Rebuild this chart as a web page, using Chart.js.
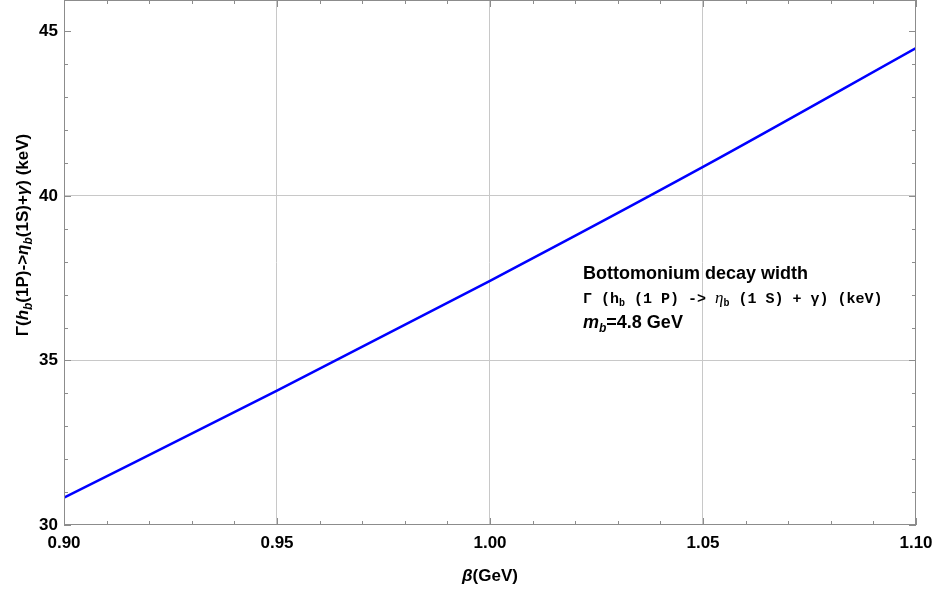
<!DOCTYPE html>
<html>
<head>
<meta charset="utf-8">
<script src="https://cdn.jsdelivr.net/npm/chart.js@4"></script>
<style>
  html, body { margin: 0; padding: 0; background: #fff; }
  canvas { display: block; }
</style>
</head>
<body>
<canvas id="myChart" width="936" height="593"></canvas>
<script>
// 読み取った値
const betaValues = [0.90, 0.95, 1.00, 1.05, 1.10];
const widthValues = [30.83, 34.08, 37.42, 40.88, 44.49];
const xTicks = [0.90, 0.95, 1.00, 1.05, 1.10];
const yTicks = [30, 35, 40, 45];
const xGrid = [0.95, 1.00, 1.05];
const yGrid = [35, 40];

const SANS = '"Liberation Sans", Arial, sans-serif';
const MONO = '"Liberation Mono", "Courier New", monospace';

// 添字付きテキストを描く
function drawRich(ctx, parts, x, y, align) {
    let total = 0;
    parts.forEach(p => { ctx.font = p.font; total += ctx.measureText(p.t).width; });
    let cx = align === 'center' ? x - total / 2 : x;
    parts.forEach(p => {
        ctx.font = p.font;
        ctx.fillText(p.t, cx, y + (p.dy || 0));
        cx += ctx.measureText(p.t).width;
    });
}

const framePlugin = {
    id: 'frame',
    afterDatasetsDraw(chart) {
        const ctx = chart.ctx;
        const a = chart.chartArea;
        const xs = chart.scales.x, ys = chart.scales.y;
        ctx.save();
        ctx.strokeStyle = '#8c8c8c';
        ctx.lineWidth = 1;
        ctx.strokeRect(a.left + 0.5, a.top + 0.5, a.right - a.left - 1, a.bottom - a.top - 1);
        ctx.beginPath();
        for (let k = 90; k <= 110; k++) {
            const px = Math.round(xs.getPixelForValue(k / 100)) + 0.5;
            const len = k % 5 === 0 ? 7 : 4;
            ctx.moveTo(px, a.bottom); ctx.lineTo(px, a.bottom - len);
            ctx.moveTo(px, a.top); ctx.lineTo(px, a.top + len);
        }
        for (let v = 30; v <= 45; v++) {
            const py = Math.round(ys.getPixelForValue(v)) + 0.5;
            const len = v % 5 === 0 ? 7 : 4;
            ctx.moveTo(a.left, py); ctx.lineTo(a.left + len, py);
            ctx.moveTo(a.right, py); ctx.lineTo(a.right - len, py);
        }
        ctx.stroke();
        ctx.restore();
    },
    afterDraw(chart) {
        const ctx = chart.ctx;
        ctx.save();
        ctx.fillStyle = '#000';
        ctx.textBaseline = 'alphabetic';
        const B = 'bold 17px ' + SANS, BI = 'italic bold 17px ' + SANS, SUB = 'italic bold 12px ' + SANS;
        // x軸タイトル
        drawRich(ctx, [{t: 'β', font: BI}, {t: '(GeV)', font: B}], 490, 581, 'center');
        // y軸タイトル
        ctx.save();
        ctx.translate(22, 235);
        ctx.rotate(-Math.PI / 2);
        drawRich(ctx, [
            {t: 'Γ(', font: B}, {t: 'h', font: BI}, {t: 'b', font: SUB, dy: 4},
            {t: '(1P)->', font: B}, {t: 'η', font: BI}, {t: 'b', font: SUB, dy: 4},
            {t: '(1S)+', font: B}, {t: 'γ', font: BI}, {t: ') (keV)', font: B}
        ], 0, 6, 'center');
        ctx.restore();
        // 注釈
        ctx.font = 'bold 18px ' + SANS;
        ctx.fillText('Bottomonium decay width', 583, 279);
        const M = 'bold 15px ' + MONO, MS = 'bold 10px ' + MONO;
        drawRich(ctx, [
            {t: 'Γ (h', font: M}, {t: 'b', font: MS, dy: 3},
            {t: ' (1 P) -> ', font: M}, {t: 'η', font: 'italic 17px "Liberation Serif", serif'},
            {t: 'b', font: MS, dy: 3}, {t: ' (1 S) + γ) (keV)', font: M}
        ], 583, 303, 'left');
        drawRich(ctx, [
            {t: 'm', font: 'italic bold 18px ' + SANS}, {t: 'b', font: 'italic bold 12px ' + SANS, dy: 4},
            {t: '=4.8 GeV', font: 'bold 18px ' + SANS}
        ], 583, 328, 'left');
        ctx.restore();
    }
};

const ctx = document.getElementById('myChart').getContext('2d');
new Chart(ctx, {
    type: 'line',
    data: {
        datasets: [{
            data: betaValues.map((b, i) => ({x: b, y: widthValues[i]})),
            borderColor: '#0000ff',
            borderWidth: 2.5,
            pointRadius: 0,
            cubicInterpolationMode: 'monotone',
            fill: false
        }]
    },
    options: {
        responsive: false,
        animation: false,
        devicePixelRatio: 1,
        layout: { padding: { left: 0, right: 20, top: 0, bottom: 0 } },
        plugins: { legend: { display: false }, tooltip: { enabled: false } },
        scales: {
            x: {
                type: 'linear',
                min: 0.9,
                max: 1.1,
                afterBuildTicks: s => { s.ticks = xTicks.map(v => ({value: v})); },
                afterFit: s => { s.height = 68; s.paddingLeft = 0; s.paddingRight = 0; },
                ticks: {
                    callback: v => v.toFixed(2),
                    font: { family: SANS, weight: 'bold', size: 17 },
                    color: '#000',
                    padding: 8,
                    maxRotation: 0,
                    autoSkip: false
                },
                grid: {
                    drawTicks: false,
                    color: c => (c.tick && xGrid.includes(c.tick.value)) ? '#c8c8c8' : 'rgba(0,0,0,0)'
                },
                border: { display: false }
            },
            y: {
                min: 30,
                max: 45.95,
                afterBuildTicks: s => { s.ticks = yTicks.map(v => ({value: v})); },
                afterFit: s => { s.width = 64; s.paddingTop = 0; s.paddingBottom = 0; },
                ticks: {
                    callback: v => String(v),
                    font: { family: SANS, weight: 'bold', size: 17 },
                    color: '#000',
                    padding: 6
                },
                grid: {
                    drawTicks: false,
                    color: c => (c.tick && yGrid.includes(c.tick.value)) ? '#c8c8c8' : 'rgba(0,0,0,0)'
                },
                border: { display: false }
            }
        }
    },
    plugins: [framePlugin]
});
</script>
</body>
</html>
